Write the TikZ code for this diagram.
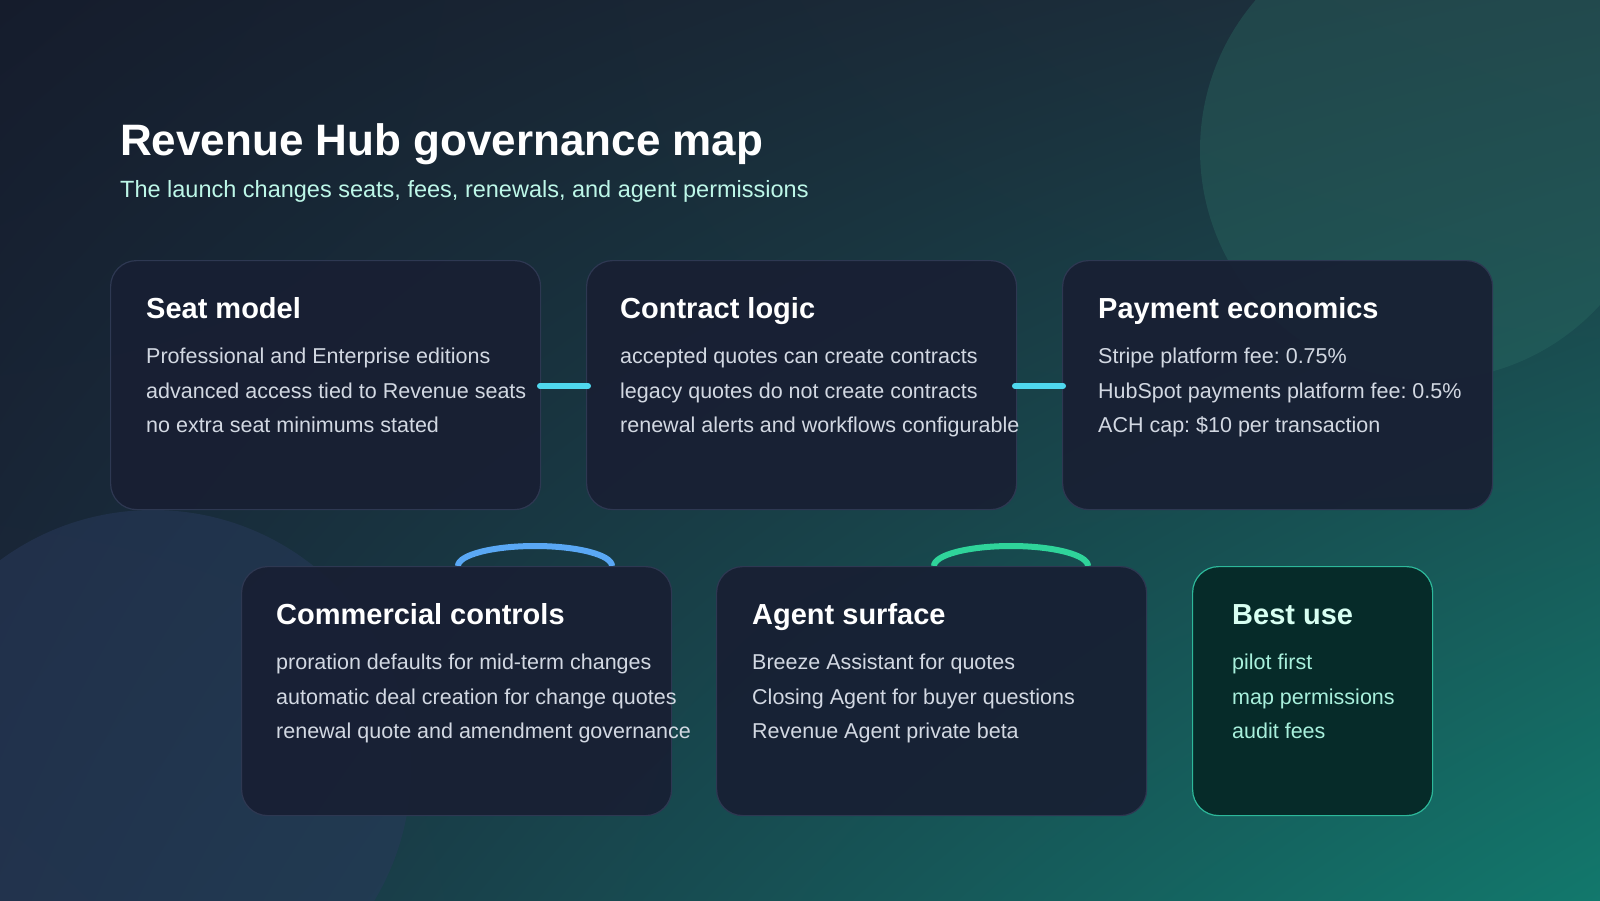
\documentclass[tikz,border=0pt]{standalone}
\usepackage{fontspec}
\setmainfont{Liberation Sans}
\usetikzlibrary{shadings}
\frenchspacing
\definecolor{ulc}{HTML}{151C2C}
\definecolor{urc}{HTML}{1E3440}
\definecolor{llc}{HTML}{1B2C3E}
\definecolor{lrc}{HTML}{12786C}
\definecolor{cardfill}{HTML}{181F33}
\definecolor{cardedge}{HTML}{2E3852}
\definecolor{bodytxt}{HTML}{D2D8E2}
\definecolor{subtxt}{HTML}{BDF7E8}
\definecolor{bestfill}{HTML}{062B29}
\definecolor{bestedge}{HTML}{2DB89A}
\definecolor{besttxt}{HTML}{A8F0DC}
\definecolor{besthead}{HTML}{D8FFF2}
\definecolor{cyanbar}{HTML}{4FD8EE}
\definecolor{bluearc}{HTML}{5AA8F5}
\definecolor{greenarc}{HTML}{2FD49A}
\definecolor{circA}{HTML}{2A6A62}
\definecolor{circB}{HTML}{28395A}
\tikzset{
  card/.style={draw=cardedge, line width=1.2pt, fill=cardfill, fill opacity=0.92, draw opacity=1, rounded corners=26pt, minimum width=430pt, minimum height=249pt, inner sep=0pt, anchor=north west},
  best/.style={card, draw=bestedge, fill=bestfill, fill opacity=1, minimum width=240pt},
  head/.style={anchor=base west, text=white, font=\fontsize{29}{34}\selectfont\bfseries, inner sep=0pt},
  body/.style={anchor=north west, text=bodytxt, font=\fontsize{21.5}{34.3}\selectfont, align=left, inner sep=0pt},
}
\begin{document}
\begin{tikzpicture}[x=1pt,y=-1pt]
\useasboundingbox (0,0) rectangle (1600,900);
\shade[upper left=ulc, upper right=urc, lower left=llc, lower right=lrc] (0,0) rectangle (1600,900);
\begin{scope}
\clip (0,0) rectangle (1600,900);
\fill[circA, fill opacity=0.4] (1430,150) circle (230);
\fill[circB, fill opacity=0.55] (153,768) circle (258);
\end{scope}
\node[anchor=base west, text=white, font=\fontsize{44}{50}\selectfont\bfseries, inner sep=0pt] (title) at (120,155) {Revenue Hub governance map};
\node[anchor=base west, text=subtxt, font=\fontsize{23.5}{26}\selectfont, inner sep=0pt] (sub) at (120,197) {The launch changes seats, fees, renewals, and agent permissions};

\draw[bluearc, line width=6pt] (458,566) arc[start angle=180, end angle=360, x radius=77, y radius=20];
\draw[greenarc, line width=6pt] (934,566) arc[start angle=180, end angle=360, x radius=77, y radius=20];

\node[card] (c1) at (110,260) {};
\node[card] (c2) at (586,260) {};
\node[card] (c3) at (1062,260) {};
\node[card] (c4) at (241,566) {};
\node[card] (c5) at (716,566) {};
\node[best] (c6) at (1192,566) {};

\draw[cyanbar, line width=6pt, line cap=round] (540,386) -- (588,386);
\draw[cyanbar, line width=6pt, line cap=round] (1015,386) -- (1063,386);

\node[head] (h1) at ([xshift=36pt,yshift=-58pt]c1.north west) {Seat model};
\node[body] (b1) at ([xshift=36pt,yshift=-88pt]c1.north west) {Professional and Enterprise editions\\advanced access tied to Revenue seats\\no extra seat minimums stated};
\node[head] (h2) at ([xshift=34pt,yshift=-58pt]c2.north west) {Contract logic};
\node[body] (b2) at ([xshift=34pt,yshift=-88pt]c2.north west) {accepted quotes can create contracts\\legacy quotes do not create contracts\\renewal alerts and workflows configurable};
\node[head] (h3) at ([xshift=36pt,yshift=-58pt]c3.north west) {Payment economics};
\node[body] (b3) at ([xshift=36pt,yshift=-88pt]c3.north west) {Stripe platform fee: 0.75\%\\HubSpot payments platform fee: 0.5\%\\ACH cap: \$10 per transaction};
\node[head] (h4) at ([xshift=35pt,yshift=-58pt]c4.north west) {Commercial controls};
\node[body] (b4) at ([xshift=35pt,yshift=-88pt]c4.north west) {proration defaults for mid-term changes\\automatic deal creation for change quotes\\renewal quote and amendment governance};
\node[head] (h5) at ([xshift=36pt,yshift=-58pt]c5.north west) {Agent surface};
\node[body] (b5) at ([xshift=36pt,yshift=-88pt]c5.north west) {Breeze Assistant for quotes\\Closing Agent for buyer questions\\Revenue Agent private beta};
\node[head, text=besthead] (h6) at ([xshift=40pt,yshift=-58pt]c6.north west) {Best use};
\node[body, text=besttxt] (b6) at ([xshift=40pt,yshift=-88pt]c6.north west) {pilot first\\map permissions\\audit fees};
\end{tikzpicture}
\end{document}
